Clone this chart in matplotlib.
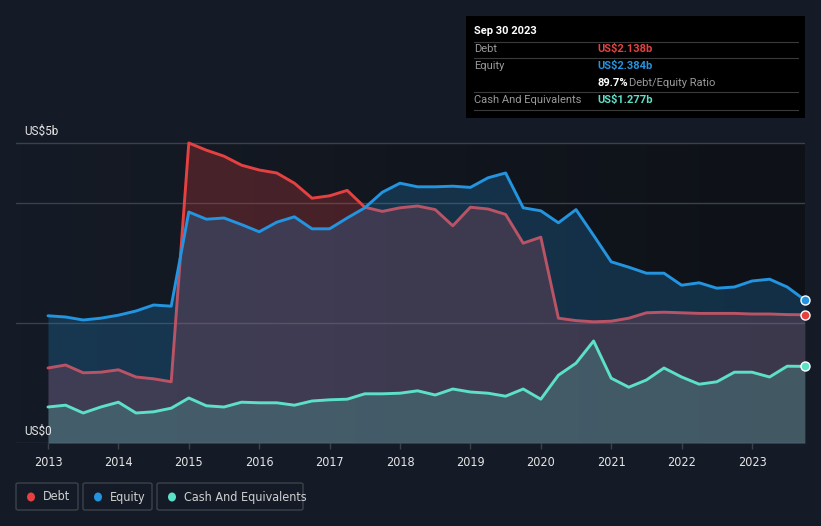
import numpy as np
import matplotlib
matplotlib.use('Agg')
import matplotlib.pyplot as plt
from matplotlib.patches import Rectangle, FancyBboxPatch, Ellipse
from matplotlib.colors import LinearSegmentedColormap
from matplotlib import font_manager

# quarterly values, US$ billions
dates = np.arange(2013.0, 2023.76, 0.25)
debt = [1.25, 1.30, 1.17, 1.18,
        1.22, 1.10, 1.07, 1.02,
        5.00, 4.88, 4.78, 4.63,
        4.55, 4.50, 4.33, 4.08,
        4.12, 4.21, 3.93, 3.86,
        3.92, 3.95, 3.89, 3.62,
        3.93, 3.90, 3.81, 3.33,
        3.43, 2.08, 2.04, 2.02,
        2.03, 2.08, 2.17, 2.18,
        2.17, 2.16, 2.16, 2.16,
        2.15, 2.15, 2.14, 2.138]
equity = [2.12, 2.10, 2.05, 2.08,
          2.13, 2.20, 2.30, 2.28,
          3.85, 3.73, 3.75, 3.64,
          3.52, 3.68, 3.77, 3.57,
          3.57, 3.75, 3.92, 4.18,
          4.33, 4.27, 4.27, 4.28,
          4.26, 4.42, 4.50, 3.92,
          3.87, 3.67, 3.89, 3.46,
          3.02, 2.93, 2.83, 2.83,
          2.63, 2.67, 2.58, 2.60,
          2.70, 2.73, 2.60, 2.384]
cash = [0.60, 0.63, 0.50, 0.60,
        0.68, 0.50, 0.52, 0.58,
        0.75, 0.62, 0.60, 0.68,
        0.67, 0.67, 0.63, 0.70,
        0.72, 0.73, 0.82, 0.82,
        0.83, 0.87, 0.80, 0.90,
        0.85, 0.83, 0.78, 0.90,
        0.73, 1.13, 1.33, 1.70,
        1.08, 0.93, 1.05, 1.25,
        1.10, 0.98, 1.02, 1.18,
        1.18, 1.10, 1.28, 1.277]
years = list(range(2013, 2024))

W, H = 821, 526
BG = '#151b26'
RED = '#e64141'
BLUE = '#2394df'
TEAL = '#5de0c8'
GRID = '#3b404b'

# narrow font for axis / legend labels if one is around
names = {f.name for f in font_manager.fontManager.ttflist}
if 'Liberation Sans Narrow' in names:
    narrow = dict(family='Liberation Sans Narrow')
else:
    narrow = dict(family='DejaVu Sans', stretch='condensed')


def fx(px):
    return px / W


def fy(py):
    return 1 - py / H


fig = plt.figure(figsize=(W / 100, H / 100), dpi=100, facecolor=BG)

# axes: x from pixel 16 to 805, y from pixel 443 (0) up to 120
px_per_year = 70.4
x0 = 2013 + (16 - 48) / px_per_year
x1 = 2013 + (805 - 48) / px_per_year
ytop = (443 - 120) / 60
ax = fig.add_axes([fx(16), fy(443), fx(805) - fx(16), (443 - 120) / H])
ax.set_xlim(x0, x1)
ax.set_ylim(0, ytop)
ax.set_facecolor(BG)
for s in ax.spines.values():
    s.set_visible(False)

# darker plot background with horizontal gradient
cmap_bg = LinearSegmentedColormap.from_list('bg', [BG, '#0e1117'])
ax.imshow(np.linspace(0, 1, 256)[None, :], cmap=cmap_bg, aspect='auto',
          extent=[x0, x1, 0, 5], zorder=0, interpolation='bicubic')

for g in [0, 2, 4, 5]:
    ax.axhline(g, color=GRID, lw=1.0, zorder=0.5)

ax.fill_between(dates, 0, debt, color=RED, alpha=0.25, lw=0, zorder=1)
ax.plot(dates, debt, color=RED, lw=2.1, zorder=2, solid_capstyle='round')
ax.fill_between(dates, 0, equity, color=BLUE, alpha=0.23, lw=0, zorder=3)
ax.plot(dates, equity, color=BLUE, lw=2.1, zorder=4, solid_capstyle='round')
ax.fill_between(dates, 0, cash, color=TEAL, alpha=0.2, lw=0, zorder=5)
ax.plot(dates, cash, color=TEAL, lw=2.1, zorder=6, solid_capstyle='round')

for series, c in [(equity, BLUE), (debt, RED), (cash, TEAL)]:
    ax.plot(dates[-1], series[-1], 'o', ms=6.5, mfc=c, mec='white', mew=1.0,
            zorder=8, clip_on=False)

ax.set_xticks(years)
ax.set_xticklabels([str(y) for y in years], color='#e6e6e6', fontsize=9, **narrow)
ax.tick_params(axis='x', length=4, width=1, color=GRID, pad=5)
ax.set_yticks([])

fig.text(fx(24), fy(131), 'US$5b', color='#e6e6e6', fontsize=8.5,
         family='Roboto', va='center', ha='left')
fig.text(fx(24), fy(431), 'US$0', color='#e6e6e6', fontsize=8.5,
         family='Roboto', va='center', ha='left')

# tooltip box
fig.patches.append(Rectangle((fx(466), fy(118)), fx(805) - fx(466), (118 - 16) / H,
                             transform=fig.transFigure, facecolor='black',
                             edgecolor='none', zorder=10))
for ly in [41.5, 58, 92, 110]:
    fig.add_artist(plt.Line2D([fx(474), fx(798)], [fy(ly), fy(ly)],
                              transform=fig.transFigure, color='#3a3a3a', lw=0.8, zorder=11))
tk = dict(fontsize=8, family='Roboto', va='center', ha='left', zorder=12)
fig.text(fx(474), fy(31), 'Sep 30 2023', color='white', fontweight='bold', **tk)
fig.text(fx(474), fy(49), 'Debt', color='#9a9a9a', **tk)
fig.text(fx(597), fy(49), 'US$2.138b', color=RED, fontweight='bold', **tk)
fig.text(fx(474), fy(66), 'Equity', color='#9a9a9a', **tk)
fig.text(fx(597), fy(66), 'US$2.384b', color=BLUE, fontweight='bold', **tk)
fig.text(fx(597), fy(83), '89.7%', color='white', fontweight='bold', **tk)
fig.text(fx(629), fy(83), 'Debt/Equity Ratio', color='#9a9a9a', **tk)
fig.text(fx(474), fy(100), 'Cash And Equivalents', color='#9a9a9a', **tk)
fig.text(fx(597), fy(100), 'US$1.277b', color=TEAL, fontweight='bold', **tk)

# legend boxes
legend_items = [('Debt', RED, 16, 78), ('Equity', BLUE, 83, 152),
                ('Cash And Equivalents', TEAL, 157, 303)]
for label, c, bx0, bx1 in legend_items:
    fig.patches.append(FancyBboxPatch((fx(bx0), fy(510)), fx(bx1) - fx(bx0), 27 / H,
                                      boxstyle='round,pad=0,rounding_size=0.003',
                                      transform=fig.transFigure, facecolor='none',
                                      edgecolor='#3d424c', lw=1.0))
    fig.patches.append(Ellipse((fx(bx0 + 15), fy(497)), 8 / W, 9 / H,
                               transform=fig.transFigure, facecolor=c, edgecolor='none'))
    fig.text(fx(bx0 + 27), fy(497), label, color='#d0d0d0', fontsize=9,
             va='center', ha='left', **narrow)

plt.savefig('out.png', dpi=100, facecolor=BG)
